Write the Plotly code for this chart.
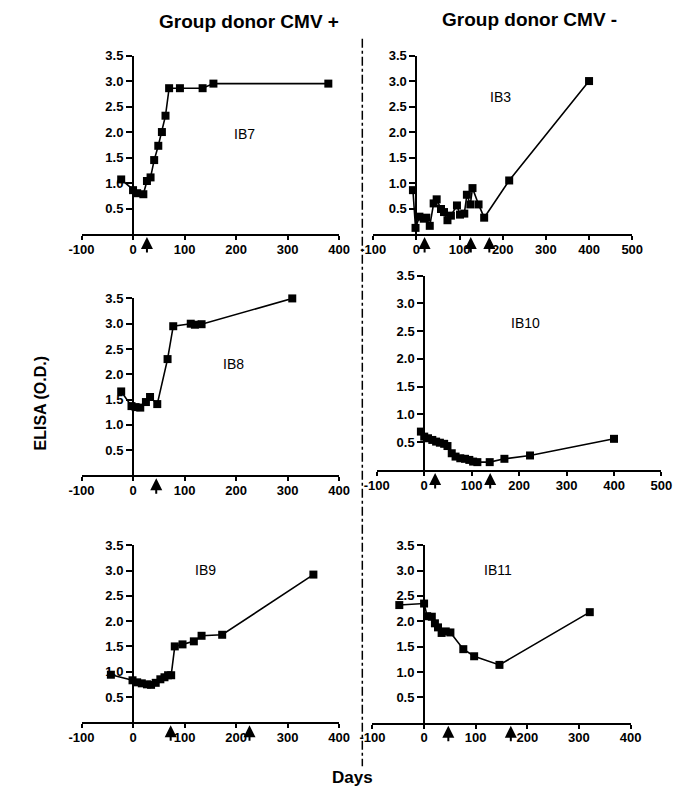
import plotly.graph_objects as go

# ---------------- data ----------------
ib7_days = [-23, 0, 8, 20, 27, 34, 41, 49, 56, 63, 70, 91, 135, 156, 379]
ib7_od = [1.07, 0.86, 0.80, 0.78, 1.04, 1.11, 1.45, 1.73, 2.00, 2.32, 2.86, 2.86, 2.86, 2.95, 2.95]
ib7_arrows = [27]

ib3_days = [-8, -2, 7, 17, 23, 31, 40, 47, 57, 64, 72, 80, 94, 101, 111, 117, 125, 130, 144, 157, 215, 400]
ib3_od = [0.86, 0.12, 0.34, 0.30, 0.32, 0.16, 0.60, 0.68, 0.49, 0.43, 0.27, 0.36, 0.56, 0.38, 0.40,
          0.77, 0.58, 0.90, 0.58, 0.32, 1.05, 3.00]
ib3_arrows = [19, 126, 169]

ib8_days = [-23, -3, 5, 14, 25, 33, 47, 67, 78, 112, 120, 133, 309]
ib8_od = [1.66, 1.37, 1.35, 1.34, 1.45, 1.55, 1.41, 2.30, 2.95, 3.00, 2.98, 2.99, 3.50]
ib8_arrows = [45]

ib10_days = [-7, 0, 8, 17, 25, 33, 42, 49, 58, 66, 76, 86, 95, 103, 112, 138, 169, 223, 400]
ib10_od = [0.69, 0.60, 0.57, 0.54, 0.51, 0.49, 0.47, 0.43, 0.30, 0.24, 0.21, 0.20, 0.18, 0.15, 0.14,
           0.14, 0.20, 0.26, 0.56]
ib10_arrows = [23, 139]

ib9_days = [-43, -1, 8, 17, 27, 35, 44, 53, 61, 68, 74, 81, 96, 118, 133, 173, 350]
ib9_od = [0.94, 0.83, 0.79, 0.77, 0.75, 0.74, 0.78, 0.85, 0.89, 0.93, 0.93, 1.50, 1.54, 1.60, 1.71, 1.73, 2.92]
ib9_arrows = [73, 226]

ib11_days = [-48, 0, 6, 15, 21, 27, 34, 42, 51, 76, 97, 146, 321]
ib11_od = [2.32, 2.35, 2.10, 2.09, 1.96, 1.88, 1.77, 1.80, 1.78, 1.45, 1.31, 1.14, 2.18]
ib11_arrows = [47, 168]

y_ticks = [0.5, 1.0, 1.5, 2.0, 2.5, 3.0, 3.5]
x_ticks_400 = [-100, 0, 100, 200, 300, 400]
x_ticks_500 = [-100, 0, 100, 200, 300, 400, 500]

# ---------------- layout geometry (pixels) ----------------
W, H = 685, 799
panels = [
    # name, days, od, arrows, xmax, xticks, px_left, px_right, py_top(3.5), py_bottom(0), label pos
    ("IB7", ib7_days, ib7_od, ib7_arrows, 400, x_ticks_400, 71, 338, 49, 229, (217, 1.96)),
    ("IB3", ib3_days, ib3_od, ib3_arrows, 500, x_ticks_500, 373.3, 641.7, 49, 229, (196, 2.68)),
    ("IB8", ib8_days, ib8_od, ib8_arrows, 400, x_ticks_400, 71, 338, 294, 472.5, (195, 2.2)),
    ("IB10", ib10_days, ib10_od, ib10_arrows, 500, x_ticks_500, 377, 672, 271, 467, (213, 2.64)),
    ("IB9", ib9_days, ib9_od, ib9_arrows, 400, x_ticks_400, 71, 338, 543, 721.6, (141, 3.02)),
    ("IB11", ib11_days, ib11_od, ib11_arrows, 400, x_ticks_400, 372.5, 640, 543, 722, (143, 3.02)),
]

FONT = "Liberation Sans, Arial, sans-serif"
tickfont = dict(family=FONT, size=13, color="black", weight="bold")

fig = go.Figure()
layout = dict(
    width=W, height=H, margin=dict(l=0, r=0, t=0, b=0),
    paper_bgcolor="white", plot_bgcolor="rgba(0,0,0,0)", showlegend=False,
)
annotations = []
shapes = []

for i, (name, days, od, arrows, xmax, xticks, pl, pr, pt, pb, lab) in enumerate(panels):
    k = "" if i == 0 else str(i + 1)
    xa, ya = "x" + k, "y" + k
    fig.add_trace(go.Scatter(
        x=days, y=od, xaxis=xa, yaxis=ya, mode="lines+markers",
        line=dict(color="black", width=1.6),
        marker=dict(symbol="square", size=8, color="black"),
        cliponaxis=False, hoverinfo="skip"))
    x0 = -100
    xdom = [pl / W, pr / W]
    ydom = [1 - pb / H, 1 - pt / H]
    zero_px = pl + (0 - x0) / (xmax - x0) * (pr - pl)
    layout["xaxis" + k] = dict(
        domain=xdom, range=[x0, xmax], anchor=ya, tickvals=xticks,
        ticktext=["<b>%d</b>" % v for v in xticks],
        showline=True, linecolor="black", linewidth=2,
        ticks="outside", ticklen=4, tickwidth=2, tickcolor="black",
        ticklabelstandoff=-2,
        showgrid=False, zeroline=False, tickfont=tickfont, fixedrange=True)
    layout["yaxis" + k] = dict(
        domain=ydom, range=[0, 3.5], anchor="free", position=zero_px / W,
        tickvals=y_ticks, ticktext=["<b>%.1f</b>" % v for v in y_ticks],
        showline=True, linecolor="black", linewidth=2,
        ticks="outside", ticklen=6, tickwidth=2, tickcolor="black",
        showgrid=False, zeroline=False, tickfont=tickfont, fixedrange=True)
    # panel label
    annotations.append(dict(
        x=lab[0], y=lab[1], xref=xa, yref=ya, text=name, showarrow=False,
        xanchor="center", yanchor="middle",
        font=dict(family=FONT, size=14, color="black")))
    # treatment arrows below the x axis
    for a in arrows:
        annotations.append(dict(
            x=a, y=1 - (pb + 3) / H, xref=xa, yref="paper", text="", showarrow=True,
            ax=0, ay=17, arrowhead=2, arrowsize=1.2, arrowwidth=2, arrowcolor="black"))

# column titles
annotations.append(dict(x=245 / W, y=1 - 15 / H, xref="paper", yref="paper",
                        xanchor="center", yanchor="middle",
                        text="<b>Group donor CMV +</b>", showarrow=False,
                        font=dict(family=FONT, size=19, color="black")))
annotations.append(dict(x=535 / W, y=1 - 13 / H, xref="paper", yref="paper",
                        xanchor="center", yanchor="middle",
                        text="<b>Group donor CMV -</b>", showarrow=False,
                        font=dict(family=FONT, size=19, color="black")))
# axis titles
annotations.append(dict(x=28 / W, y=1 - 400 / H, xref="paper", yref="paper",
                        xanchor="center", yanchor="middle",
                        text="<b>ELISA (O.D.)</b>", showarrow=False, textangle=-90,
                        font=dict(family=FONT, size=16, color="black")))
annotations.append(dict(x=352 / W, y=1 - 777 / H, xref="paper", yref="paper",
                        xanchor="center", yanchor="middle",
                        text="<b>Days</b>", showarrow=False,
                        font=dict(family=FONT, size=17, color="black")))

# vertical separator
shapes.append(dict(type="line", xref="paper", yref="paper",
                   x0=362 / W, x1=362 / W, y0=1 - 32 / H, y1=1 - 766 / H,
                   line=dict(color="black", width=1.5, dash="dashdot")))

layout["annotations"] = annotations
layout["shapes"] = shapes
fig.update_layout(**layout)
fig.write_html("out.html")
